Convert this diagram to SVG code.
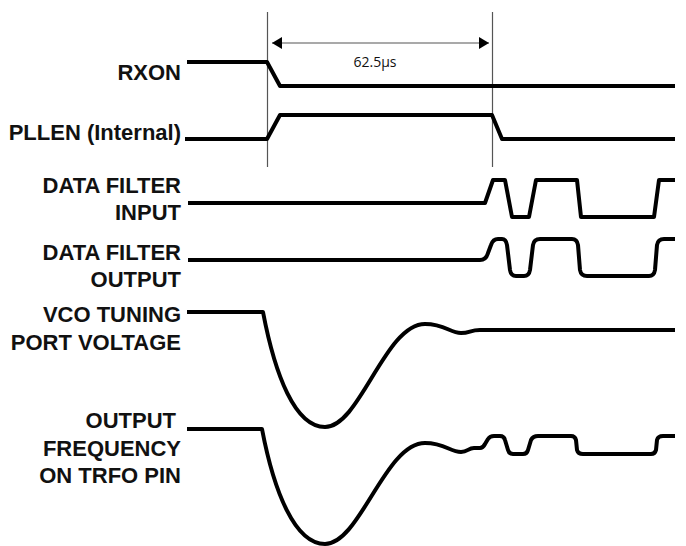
<svg xmlns="http://www.w3.org/2000/svg" width="686" height="546" viewBox="0 0 686 546">
<defs>
<style>
.lbl{font-family:"Liberation Sans",Arial,sans-serif;font-weight:700;font-size:22px;fill:#111;text-anchor:end}
.dim{font-family:"Open Sans","Liberation Sans",sans-serif;font-size:14px;fill:#111;text-anchor:middle}
.sig{fill:none;stroke:#000;stroke-width:4;stroke-linejoin:round}
.ref{stroke:#555;stroke-width:1.2;fill:none}
</style>
<marker id="ah" viewBox="0 0 10 12" refX="10" refY="6" markerWidth="10" markerHeight="12" markerUnits="userSpaceOnUse" orient="auto-start-reverse">
<path d="M0,0 L10,6 L0,12 Z" fill="#000"/>
</marker>
</defs>
<rect width="686" height="546" fill="#fff"/>
<g id="timing-markers">
<line class="ref" x1="267.5" y1="12" x2="267.5" y2="167"/>
<line class="ref" x1="492.5" y1="12" x2="492.5" y2="167"/>
<line class="ref" x1="272" y1="43" x2="489" y2="43" marker-start="url(#ah)" marker-end="url(#ah)"/>
<text class="dim" x="375" y="67">62.5µs</text>
</g>
<g id="rxon">
<text class="lbl" x="181" y="80">RXON</text>
<path class="sig" d="M187,62 H267 L280,86 H675"/>
</g>
<g id="pllen">
<text class="lbl" x="181" y="140">PLLEN (Internal)</text>
<path class="sig" d="M185,139 H267 L280,115 H492 L502,139 H675"/>
</g>
<g id="data-filter-input">
<text class="lbl" x="181" y="193">DATA FILTER</text>
<text class="lbl" x="181" y="220">INPUT</text>
<path class="sig" d="M188,203 H485 L493,180 H505 L512,217 H529 L536,180 H577 L581,217 H654 L659,180 H675"/>
</g>
<g id="data-filter-output">
<text class="lbl" x="181" y="260">DATA FILTER</text>
<text class="lbl" x="181" y="287">OUTPUT</text>
<path class="sig" d="M188,260 H480 Q486,260 488,253 L491,245 Q493,239 498,239 H502 Q506,239 507,245 L510,270 Q511,276 516,276 H524 Q529,276 530,270 L533,245 Q534,239 540,239 H572 Q577,239 578,245 L580,270 Q581,276 587,276 H649 Q654,276 655,270 L657,245 Q658,239 664,239 H675"/>
</g>
<g id="vco-tuning">
<text class="lbl" x="181" y="322">VCO TUNING</text>
<text class="lbl" x="181" y="350">PORT VOLTAGE</text>
<path class="sig" d="M187,312 H263 C275,375 295,427 325,427 C360,427 385,324 425,324 C445,324 450,333 461,333 C470,333 470,330 480,330 H675"/>
</g>
<g id="output-frequency">
<text class="lbl" x="176" y="428">OUTPUT</text>
<text class="lbl" x="181" y="456">FREQUENCY</text>
<text class="lbl" x="181" y="483">ON TRFO PIN</text>
<path class="sig" d="M187,429 H262 C274,492 295,544 325,544 C360,544 385,443 425,443 C445,443 450,452 461,452 C468,452 468,448 474,448 H480 Q483,448 485,444 L488,439 Q490,436 494,436 H500 Q504,436 505,440 L508,450 Q509,454 513,454 H523 Q527,454 528,450 L531,440 Q533,436 538,436 H571 Q575,436 576,440 L577,450 Q578,454 583,454 H651 Q655,454 656,450 L657,440 Q658,436 663,436 H675"/>
</g>
</svg>
